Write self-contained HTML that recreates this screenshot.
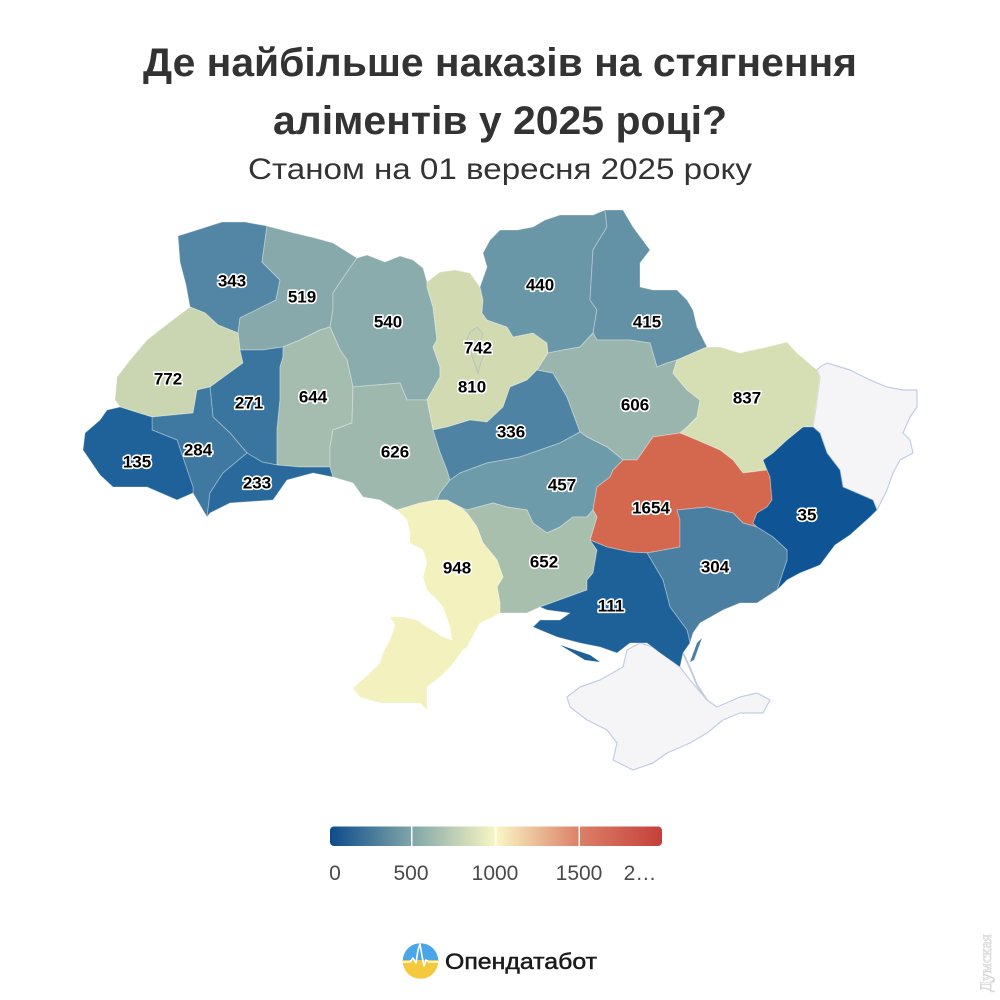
<!DOCTYPE html>
<html><head><meta charset="utf-8"><style>
html,body{margin:0;padding:0;background:#fff;}
svg{display:block;}
.r{stroke:#ffffff;stroke-opacity:0.3;stroke-width:1;stroke-linejoin:round;}
.g{fill:#f5f5f8;stroke:#c3cde2;stroke-width:1.2;stroke-linejoin:round;}
.l{font-family:"Liberation Sans",Arial,sans-serif;font-weight:bold;font-size:17px;fill:#000;stroke:#fff;stroke-width:3.2px;paint-order:stroke;stroke-linejoin:round;text-anchor:middle;dominant-baseline:central;}
</style></head><body>
<svg width="1000" height="1000" viewBox="0 0 1000 1000" xmlns="http://www.w3.org/2000/svg">
<defs>
<linearGradient id="lg" x1="330" y1="0" x2="662" y2="0" gradientUnits="userSpaceOnUse">
<stop offset="0" stop-color="#0c4b8c"/>
<stop offset="0.25" stop-color="#82a7a8"/>
<stop offset="0.5" stop-color="#f9f7c4"/>
<stop offset="0.75" stop-color="#dc8068"/>
<stop offset="1" stop-color="#c4403a"/>
</linearGradient>
<clipPath id="lc"><circle cx="420.5" cy="961" r="17.8"/></clipPath>
</defs>

<!-- Title -->
<text x="500" y="76" text-anchor="middle" font-family="Liberation Sans, Arial, sans-serif" font-weight="bold" font-size="40" fill="#333" textLength="714" lengthAdjust="spacingAndGlyphs">Де найбільше наказів на стягнення</text>
<text x="500" y="134" text-anchor="middle" font-family="Liberation Sans, Arial, sans-serif" font-weight="bold" font-size="40" fill="#333" textLength="454" lengthAdjust="spacingAndGlyphs">аліментів у 2025 році?</text>
<text x="500" y="179" text-anchor="middle" font-family="Liberation Sans, Arial, sans-serif" font-size="30" fill="#333" textLength="504" lengthAdjust="spacingAndGlyphs">Станом на 01 вересня 2025 року</text>

<!-- Grey regions -->
<polygon class="g" points="817,370 820,367 827,363 840,367 850,370 870,380 887,387 903,390 917,390 917,407 910,417 903,433 910,440 913,453 900,460 893,473 887,490 877,510 873,500 857,493 843,487 840,470 827,453 820,433 813,427 817,400 820,377"/>
<polygon class="g" points="567,697 580,687 600,680 623,667 627,650 640,643 653,647 667,657 680,667 690,680 707,700 717,707 740,697 757,693 770,700 763,713 740,713 723,720 707,733 690,743 667,753 653,763 633,770 613,760 617,743 607,730 587,720 570,707"/>
<polyline points="683,653 690,668 697,685 707,700" fill="none" stroke="#c3cde2" stroke-width="2"/>

<!-- Volyn 343 -->
<polygon class="r" fill="#5286a4" points="178,236 200,229 222,222 245,222 267,226 262,262 280,280 276,300 240,318 238,333 218,325 205,313 190,307 186,285 180,262"/>
<!-- Rivne 519 -->
<polygon class="r" fill="#87a9ab" points="267,226 290,232 315,238 333,243 357,258 345,275 333,293 333,310 330,327 320,330 300,340 283,347 262,350 240,350 238,333 240,318 276,300 280,280 262,262"/>
<!-- Zhytomyr 540 -->
<polygon class="r" fill="#8aacac" points="357,258 367,255 385,262 400,256 413,260 423,268 427,282 427,287 433,307 437,340 433,347 440,367 440,377 427,400 407,400 400,383 353,387 347,360 340,350 330,327 333,310 333,293 345,275"/>
<!-- Kyiv 810 -->
<polygon class="r" fill="#d2dab2" points="427,282 440,272 455,270 470,273 480,287 483,300 482,313 487,320 507,327 513,337 533,333 547,343 548,353 537,370 527,380 510,387 503,407 487,422 470,420 447,427 433,430 427,400 440,377 440,367 433,347 437,340 433,307 427,287"/>
<polygon fill="#cdd7b1" stroke="#b9c5b6" stroke-width="1" points="470,332 477,327 483,334 480,344 484,354 481,362 478,373 474,362 470,350 467,340"/>
<!-- Chernihiv 440 -->
<polygon class="r" fill="#6a97a8" points="500,230 517,230 533,227 545,220 560,215 593,215 605,210 607,227 593,250 590,300 597,310 593,333 580,347 563,350 548,353 547,343 533,333 513,337 507,327 487,320 482,313 483,300 480,287 487,267 483,253 490,240"/>
<!-- Sumy 415 -->
<polygon class="r" fill="#6391a6" points="605,210 623,210 633,227 650,250 640,263 640,287 653,290 677,290 687,300 693,310 697,327 707,347 693,353 677,360 667,363 657,367 650,343 630,340 597,340 593,333 597,310 590,300 593,250 607,227"/>
<!-- Lviv 772 -->
<polygon class="r" fill="#cad6b1" points="190,307 205,313 218,325 238,333 240,350 243,363 210,387 197,390 193,413 152,417 120,407 115,400 117,377 130,360 147,340 170,322"/>
<!-- Ternopil 271 -->
<polygon class="r" fill="#3a759f" points="240,350 262,350 283,347 283,357 280,367 280,400 277,430 277,465 262,462 247,453 230,433 213,417 210,387 243,363"/>
<!-- Khmelnytskyi 644 -->
<polygon class="r" fill="#a5bdaf" points="283,347 300,340 320,330 330,327 340,350 347,360 353,387 352,423 333,430 330,447 330,467 300,467 277,465 277,430 280,400 280,367 283,357"/>
<!-- Ivano-Frankivsk 284 -->
<polygon class="r" fill="#3f78a0" points="152,417 193,413 197,390 210,387 213,417 230,433 247,453 223,473 210,493 207,517 193,493 193,487 177,440 152,430"/>
<!-- Chernivtsi 233 -->
<polygon class="r" fill="#2a699c" points="247,453 262,462 277,465 300,467 330,467 333,477 313,473 287,480 273,500 230,503 210,513 207,517 210,493 223,473"/>
<!-- Zakarpattia 135 -->
<polygon class="r" fill="#1f6199" points="107,410 120,407 152,417 152,430 177,440 193,487 193,493 177,500 147,487 113,487 100,475 83,450 85,433 100,420"/>
<!-- Vinnytsia 626 -->
<polygon class="r" fill="#9eb8ae" points="353,387 400,383 407,400 427,400 433,430 440,452 447,470 450,480 440,493 437,500 420,503 407,507 397,510 380,500 363,497 353,483 333,477 330,467 330,447 333,430 352,423"/>
<!-- Cherkasy 336 -->
<polygon class="r" fill="#4e83a3" points="537,370 553,373 567,397 580,432 560,443 540,450 520,457 487,463 460,473 450,480 447,470 440,452 433,430 447,427 470,420 487,422 503,407 510,387 527,380"/>
<!-- Poltava 606 -->
<polygon class="r" fill="#9ab5ae" points="548,353 563,350 580,347 593,333 597,340 630,340 650,343 657,367 667,363 677,360 673,373 687,390 700,400 697,417 687,427 680,433 653,437 637,460 623,460 607,447 587,437 580,432 567,397 553,373 537,370"/>
<!-- Kirovohrad 457 -->
<polygon class="r" fill="#6e9ba9" points="450,480 460,473 487,463 520,457 540,450 560,443 580,432 587,437 607,447 623,460 613,470 610,477 597,487 593,510 587,517 573,517 560,527 547,533 533,523 527,510 507,507 493,503 467,510 460,507 447,500 437,500 440,493"/>
<!-- Kharkiv 837 -->
<polygon class="r" fill="#d6deb4" points="707,347 720,347 740,353 753,350 767,347 787,342 797,353 817,370 820,377 817,400 813,427 803,427 787,440 773,453 763,460 767,470 743,473 733,460 720,450 697,440 680,433 687,427 697,417 700,400 687,390 673,373 677,360 693,353"/>
<!-- Dnipro 1654 -->
<polygon class="r" fill="#d3684f" points="623,460 637,460 653,437 680,433 697,440 720,450 733,460 743,473 767,470 770,477 772,500 767,507 757,513 753,523 757,527 743,523 733,513 707,507 677,510 680,520 680,547 647,553 630,552 607,547 590,540 597,517 593,510 597,487 610,477 613,470"/>
<!-- Donetsk 35 -->
<polygon class="r" fill="#0f5595" points="767,470 763,460 773,453 787,440 803,427 813,427 820,433 827,453 840,470 843,487 857,493 873,500 877,510 870,517 850,535 835,545 820,565 800,573 787,580 777,590 787,560 787,550 773,537 757,527 753,523 757,513 767,507 772,500 770,477"/>
<!-- Zaporizhzhia 304 -->
<polygon class="r" fill="#4a7fa2" points="647,553 680,547 680,520 677,510 707,507 733,513 743,523 757,527 773,537 787,550 787,560 777,590 757,603 740,603 723,610 700,623 693,633 690,643 687,630 670,607 663,580"/>
<polygon fill="#4a7fa2" points="697,643 702,638 694,660 690,662"/>
<!-- Mykolaiv 652 -->
<polygon class="r" fill="#a9bfae" points="460,507 467,510 493,503 507,507 527,510 533,523 547,533 560,527 573,517 587,517 593,510 597,517 590,540 597,550 593,573 587,580 587,590 540,607 527,613 500,613 500,603 497,587 503,577 497,560 483,543 477,527 467,513"/>
<!-- Kherson 111 -->
<polygon class="r" fill="#1e6198" points="590,540 607,547 630,552 647,553 663,580 670,607 687,630 690,643 683,653 680,667 660,653 647,643 630,643 617,653 600,647 580,643 557,637 533,627 540,620 560,620 570,613 547,610 540,607 587,590 587,580 593,573 597,550"/>
<polygon fill="#1e6198" points="560,645 590,655 600,662 585,660"/>
<!-- Odesa 948 -->
<polygon class="r" fill="#f3f1bd" points="397,510 407,507 420,503 437,500 447,500 460,507 467,513 477,527 483,543 497,560 503,577 497,587 500,603 500,613 493,617 480,623 467,647 463,650 450,667 440,677 427,687 427,710 420,703 397,703 380,703 360,697 353,688 370,673 380,663 383,653 390,640 395,625 390,617 403,617 417,620 427,627 443,637 452,640 450,627 443,607 437,600 427,590 423,577 427,563 423,550 410,543 410,533 407,520"/>

<!-- Labels -->
<text class="l" x="232" y="281">343</text>
<text class="l" x="302" y="297">519</text>
<text class="l" x="388" y="322">540</text>
<text class="l" x="478" y="348">742</text>
<text class="l" x="472" y="387">810</text>
<text class="l" x="540" y="285">440</text>
<text class="l" x="647" y="322">415</text>
<text class="l" x="168" y="379">772</text>
<text class="l" x="249" y="403">271</text>
<text class="l" x="313" y="397">644</text>
<text class="l" x="635" y="405">606</text>
<text class="l" x="747" y="398">837</text>
<text class="l" x="137" y="462">135</text>
<text class="l" x="198" y="450">284</text>
<text class="l" x="257" y="483">233</text>
<text class="l" x="395" y="452">626</text>
<text class="l" x="511" y="432">336</text>
<text class="l" x="562" y="485">457</text>
<text class="l" x="651" y="508">1654</text>
<text class="l" x="807" y="515">35</text>
<text class="l" x="457" y="568">948</text>
<text class="l" x="544" y="562">652</text>
<text class="l" x="715" y="567">304</text>
<text class="l" x="611" y="606">111</text>

<!-- Legend -->
<rect x="330" y="826.5" width="332" height="19.5" rx="4" fill="url(#lg)"/>
<rect x="411" y="826.5" width="1.5" height="19.5" fill="#fff"/>
<rect x="495" y="826.5" width="1.5" height="19.5" fill="#fff"/>
<rect x="578.5" y="826.5" width="1.5" height="19.5" fill="#fff"/>
<g font-family="Liberation Sans, Arial, sans-serif" font-size="21" fill="#4a4a4a" text-anchor="middle">
<text x="335" y="880">0</text>
<text x="411" y="880">500</text>
<text x="495" y="880">1000</text>
<text x="579" y="880">1500</text>
<text x="640" y="880">2…</text>
</g>

<!-- Logo -->
<g clip-path="url(#lc)">
<rect x="400" y="940" width="42" height="22" fill="#4aa6e8"/>
<rect x="400" y="960" width="42" height="22" fill="#f4c93e"/>
<polyline points="400,962 410,962 413,958 416,963 418,950 420,944 422,956 424,966 426,960 429,962 442,962" fill="none" stroke="#fff" stroke-width="1.6" stroke-linejoin="round"/>
</g>
<text x="445" y="969" font-family="Liberation Sans, Arial, sans-serif" font-size="22.5" fill="#1a1a1a" textLength="152" lengthAdjust="spacingAndGlyphs" stroke="#1a1a1a" stroke-width="0.5">Опендатабот</text>

<!-- Watermark -->
<text x="0" y="0" transform="translate(991,992) rotate(-90)" font-family="Liberation Serif, serif" font-size="16" fill="none" stroke="#d6d6d6" stroke-width="0.7">Думская</text>
</svg>
</body></html>
